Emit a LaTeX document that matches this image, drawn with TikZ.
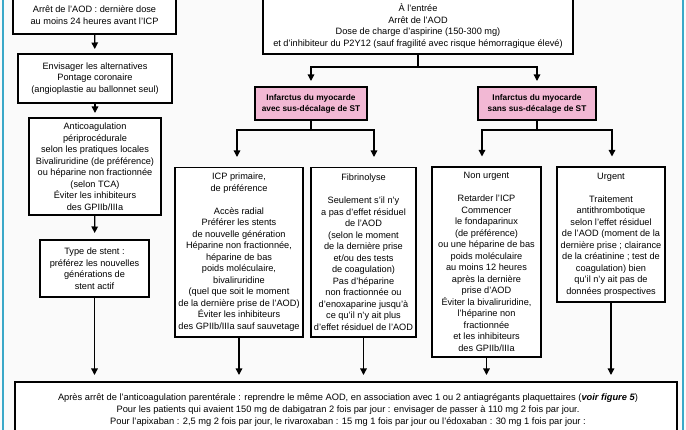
\documentclass[tikz,border=0pt]{standalone}
\usepackage{fontspec}
\setmainfont{Liberation Sans}
\usetikzlibrary{arrows.meta,calc}
\definecolor{pinkc}{RGB}{242,184,212}
\definecolor{framec}{RGB}{58,168,200}
\definecolor{bgc}{RGB}{250,250,250}
\begin{document}
\begin{tikzpicture}[x=1pt,y=-1pt,
  box/.style={draw, line width=1.4pt, fill=white, align=center, inner sep=0pt, outer sep=0pt, font=\fontsize{9.2}{11.5}\selectfont},
  pbox/.style={box, fill=pinkc, font=\fontsize{8.3}{11}\selectfont\bfseries},
  txt/.style={align=center, inner sep=0pt, font=\fontsize{9.3}{12}\selectfont},
  ln/.style={line width=1.3pt},
  arr/.style={line width=1.3pt, -{Triangle[length=6.5pt,width=6.5pt]}}]
\useasboundingbox (0,0) rectangle (686,430);
\clip (0,0) rectangle (686,430);
\fill[bgc] (0,0) rectangle (686,430);
\draw[framec, line width=2pt] (3,-5) -- (3,435);
\draw[framec, line width=2pt] (683,-5) -- (683,435);

% left column
\node[box, minimum width=163pt, minimum height=38pt] (A) at (94.5,15) {Arrêt de l'AOD : dernière dose\\ au moins 24 heures avant l'ICP};
\node[box, minimum width=154pt, minimum height=49pt] (B) at (95,78.5) {Envisager les alternatives\\ Pontage coronaire\\ (angioplastie au ballonnet seul)};
\node[box, minimum width=132pt, minimum height=97pt] (C) at (95,166.5) {Anticoagulation\\ périprocédurale\\ selon les pratiques locales\\ Bivaliruridine (de préférence)\\ ou héparine non fractionnée\\ (selon TCA)\\ Éviter les inhibiteurs\\ des GPIIb/IIIa};
\node[box, minimum width=109pt, minimum height=57pt] (D) at (94.5,268.5) {Type de stent :\\ préférez les nouvelles\\ générations de\\ stent actif};

% top centre
\node[box, minimum width=310pt, minimum height=56pt] (E) at (418,26) {À l'entrée\\ Arrêt de l'AOD\\ Dose de charge d'aspirine (150-300 mg)\\ et d'inhibiteur du P2Y12 (sauf fragilité avec risque hémorragique élevé)};

\node[pbox, minimum width=112pt, minimum height=33pt] (F1) at (311,103.5) {Infarctus du myocarde\\ avec sus-décalage de ST};
\node[pbox, minimum width=118pt, minimum height=33pt] (F2) at (537,103.5) {Infarctus du myocarde\\ sans sus-décalage de ST};

\node[box, minimum width=128pt, minimum height=169.5pt] (G1) at (239,252.25) {ICP primaire,\\ de préférence\\[11.5pt] Accès radial\\ Préférer les stents\\ de nouvelle génération\\ Héparine non fractionnée,\\ héparine de bas\\ poids moléculaire,\\ bivaliruridine\\ (quel que soit le moment\\ de la dernière prise de l'AOD)\\ Éviter les inhibiteurs\\ des GPIIb/IIIa sauf sauvetage};
\node[box, minimum width=105pt, minimum height=169.5pt] (G2) at (363.5,252.25) {Fibrinolyse\\[11.5pt] Seulement s'il n'y\\ a pas d'effet résiduel\\ de l'AOD\\ (selon le moment\\ de la dernière prise\\ et/ou des tests\\ de coagulation)\\ Pas d'héparine\\ non fractionnée ou\\ d'enoxaparine jusqu'à\\ ce qu'il n'y ait plus\\ d'effet résiduel de l'AOD};
\node[box, minimum width=109pt, minimum height=190pt] (G3) at (486.5,262) {Non urgent\\[11.5pt] Retarder l'ICP\\ Commencer\\ le fondaparinux\\ (de préférence)\\ ou une héparine de bas\\ poids moléculaire\\ au moins 12 heures\\ après la dernière\\ prise d'AOD\\ Éviter la bivaliruridine,\\ l'héparine non\\ fractionnée\\ et les inhibiteurs\\ des GPIIb/IIIa};
\node[box, minimum width=108pt, minimum height=135pt] (G4) at (611,234.5) {Urgent\\[11.5pt] Traitement\\ antithrombotique\\ selon l'effet résiduel\\ de l'AOD (moment de la\\ dernière prise ; clairance\\ de la créatinine ; test de\\ coagulation) bien\\ qu'il n'y ait pas de\\ données prospectives};

% bottom
\node[box, anchor=north, minimum width=662pt, minimum height=80pt] (H) at (346,382) {};
\node[txt, anchor=north] (Ht) at (348,393) {Après arrêt de l'anticoagulation parentérale : reprendre le même AOD, en association avec 1 ou 2 antiagrégants plaquettaires (\textbf{\textit{voir figure 5}})\\ Pour les patients qui avaient 150 mg de dabigatran 2 fois par jour : envisager de passer à 110 mg 2 fois par jour.\\ Pour l'apixaban : 2,5 mg 2 fois par jour, le rivaroxaban : 15 mg 1 fois par jour ou l'édoxaban : 30 mg 1 fois par jour :};

% connectors left
\draw[arr, shorten >=5pt] (A) -- (B);
\draw[arr, shorten >=5pt] (B) -- (C);
\draw[arr, shorten >=7pt] (C) -- (D);

% top tree
\draw[ln] (E.south) -- ++(0,13) coordinate (e1);
\draw[arr, shorten >=6pt] (e1) -| (F1.north);
\draw[arr, shorten >=6pt] (e1) -| (F2.north);
\draw[ln] (F1.south) -- ++(0,10) coordinate (f1);
\draw[arr, shorten >=10.5pt] (f1) -| ([xshift=-2pt]G1.north);
\draw[arr, shorten >=10.5pt] (f1) -| ([xshift=10.5pt]G2.north);
\draw[ln] (F2.south) -- ++(0,10) coordinate (f2);
\draw[arr, shorten >=10.5pt] (f2) -| ([xshift=-4.5pt]G3.north);
\draw[arr, shorten >=10.5pt] (f2) -| ([xshift=1pt]G4.north);

% to bottom box
\draw[arr, shorten >=7pt] (D.south) -- (D.south |- H.north);
\draw[arr, shorten >=7pt] (G1.south) -- (G1.south |- H.north);
\draw[arr, shorten >=7pt] (G2.south) -- (G2.south |- H.north);
\draw[arr, shorten >=7pt] (G3.south) -- (G3.south |- H.north);
\draw[arr, shorten >=7pt] (G4.south) -- (G4.south |- H.north);
\end{tikzpicture}
\end{document}
